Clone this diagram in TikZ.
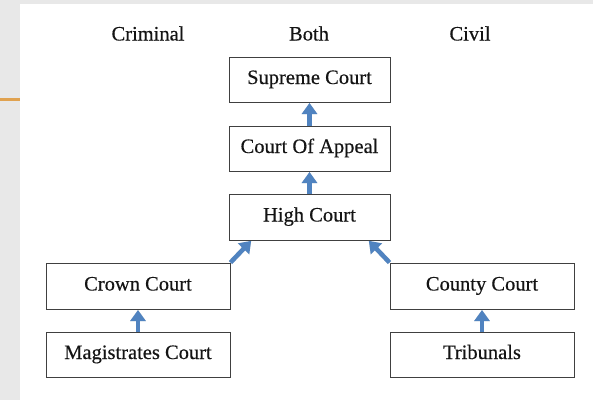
\documentclass[tikz,border=0pt]{standalone}
\usepackage{fontspec}
\setmainfont{Liberation Serif}[FakeBold=0.4]
\usetikzlibrary{arrows.meta,calc}
\definecolor{bgray}{RGB}{232,232,232}
\definecolor{arrblue}{RGB}{80,131,192}
\definecolor{boxline}{RGB}{64,64,64}
\definecolor{accent}{RGB}{224,162,80}
\definecolor{txt}{RGB}{20,20,20}
\tikzset{
  court/.style={draw=boxline,line width=1pt,fill=white,inner sep=0pt,text=txt,
    text height=13pt,text depth=4pt,font=\fontsize{20.5}{24}\selectfont},
  head/.style={font=\fontsize{20.5}{24}\selectfont,inner sep=0pt,text=txt,text height=13pt,text depth=4pt},
  arr/.style={draw=arrblue,line width=4.5pt,-{Triangle[width=15pt,length=11pt]},shorten >=0.5pt},
  arrshadow/.style={draw=black!45,opacity=0.35,line width=4.5pt,-{Triangle[width=15pt,length=11pt]},shorten >=0.5pt}
}
\begin{document}
\begin{tikzpicture}[x=1pt,y=-1pt]
\useasboundingbox (0,0) rectangle (593,400);
\fill[bgray] (0,0) rectangle (593,400);
\fill[white] (20,4) rectangle (593,400);
\draw[accent,line width=3pt] (0,99) -- (20,99);
% headers
\node[head] (hcrim) at (148,36) {Criminal};
\node[head] (hboth) at (309,36) {Both};
\node[head] (hciv) at (470,36) {Civil};
% boxes
\node[court,minimum width=161pt,minimum height=45pt] (sup) at (309.5,79.5) {Supreme Court};
\node[court,minimum width=161pt,minimum height=45pt] (app) at (309.5,148.5) {Court Of Appeal};
\node[court,minimum width=161pt,minimum height=46pt] (high) at (309.5,217) {High Court};
\node[court,minimum width=184pt,minimum height=46pt] (crown) at (138,286) {Crown Court};
\node[court,minimum width=184pt,minimum height=45pt] (mag) at (138,354.5) {Magistrates Court};
\node[court,minimum width=184pt,minimum height=46pt] (county) at (482,286) {County Court};
\node[court,minimum width=184pt,minimum height=45pt] (trib) at (482,354.5) {Tribunals};
\coordinate (hl) at ($(high.south west)+(23pt,0)$);
\coordinate (hr) at ($(high.south east)+(-22pt,0)$);
% shadows
\begin{scope}[shift={(1.5,2)}]
\draw[arrshadow] (app.north) -- (sup.south);
\draw[arrshadow] (high.north) -- (app.south);
\draw[arrshadow] (crown.north east) -- (hl);
\draw[arrshadow] (county.north west) -- (hr);
\draw[arrshadow] (mag.north) -- (crown.south);
\draw[arrshadow] (trib.north) -- (county.south);
\end{scope}
% arrows
\draw[arr] (app.north) -- (sup.south);
\draw[arr] (high.north) -- (app.south);
\draw[arr] (crown.north east) -- (hl);
\draw[arr] (county.north west) -- (hr);
\draw[arr] (mag.north) -- (crown.south);
\draw[arr] (trib.north) -- (county.south);
\end{tikzpicture}
\end{document}
